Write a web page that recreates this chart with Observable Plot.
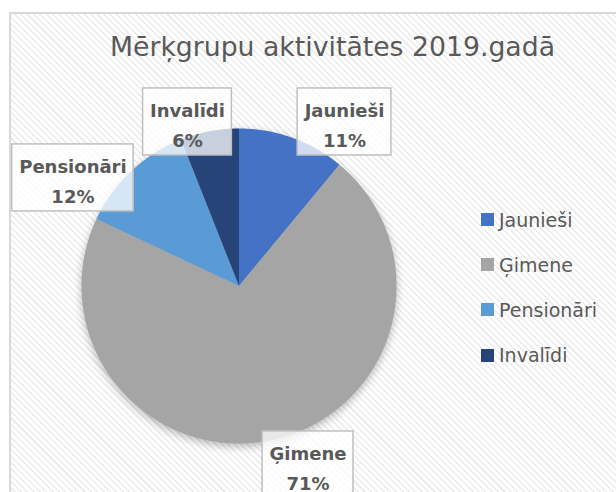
<!DOCTYPE html>
<html><head><meta charset="utf-8">
<script src="https://cdn.jsdelivr.net/npm/d3@7"></script>
<script src="https://cdn.jsdelivr.net/npm/@observablehq/plot@0.6"></script>
<style>
html,body{margin:0;padding:0;background:#fff;width:616px;height:492px;overflow:hidden;position:relative;}
#frame{position:absolute;left:9px;top:12px;width:700px;height:600px;border:2px solid #d9d9d9;box-sizing:border-box;
  background-color:#fff;background-image:repeating-linear-gradient(45deg,#ececec 0px,#ececec 1.5px,#fff 1.5px,#fff 4.5px);}
#chart{position:absolute;left:0;top:0;}
#title{position:absolute;left:0;width:665px;top:34px;text-align:center;font:26.7px/26.7px "DejaVu Sans",sans-serif;color:#595959;white-space:nowrap;}
#legend{position:absolute;left:481px;top:197px;font:19px "DejaVu Sans",sans-serif;color:#595959;}
.row{display:flex;align-items:center;height:45.2px;white-space:nowrap;}
.sw{width:13px;height:13px;margin-right:5px;flex:none;}
</style></head><body>
<div id="frame"></div>
<div id="chart"></div>
<div id="title">Mērķgrupu aktivitātes 2019.gadā</div>
<div id="legend"></div>
<script>
// ---- data ----
const categories = ["Jaunieši", "Ģimene", "Pensionāri", "Invalīdi"];
const values = [11, 71, 12, 6];
const colors = ["#4472C4", "#A5A5A5", "#5B9BD5", "#264478"];
const chartTitle = "Mērķgrupu aktivitātes 2019.gadā";

// ---- layout (pixels) ----
const R = 157.5;                    // pie radius in px (1 data unit)
const labelRadius = 1.2;            // label anchor distance in radii
const labelNudge = {                // pixel nudges of the data-label boxes
  "Jaunieši": [41.5, 13.8],
  "Ģimene": [27.8, -5.5],
  "Pensionāri": [-36.7, 29.7],
  "Invalīdi": [-16.1, 21.6]
};
const labelFont = 'bold 18px "DejaVu Sans"';
const boxPadX = 7, boxH = 67;

document.getElementById("title").textContent = chartTitle;

const data = categories.map((name, i) => ({name, value: values[i]}));
const total = d3.sum(values);
const arcs = d3.pie().sort(null).value(d => d.value)(data);

// slice outlines
const slicePts = [];
for (const a of arcs) {
  const name = a.data.name;
  slicePts.push({name, x: 0, y: 0});
  const n = Math.max(2, Math.ceil((a.endAngle - a.startAngle) / (Math.PI / 360)));
  for (let k = 0; k <= n; k++) {
    const t = a.startAngle + (a.endAngle - a.startAngle) * k / n;
    slicePts.push({name, x: Math.sin(t), y: Math.cos(t)});
  }
}

// labels and boxes
const ctx = document.createElement("canvas").getContext("2d");
ctx.font = labelFont;
const fmt = d3.format(".0%");
const labels = arcs.map(a => {
  const name = a.data.name;
  const mid = (a.startAngle + a.endAngle) / 2;
  const [nx, ny] = labelNudge[name];
  const x = labelRadius * Math.sin(mid) + nx / R;
  const y = labelRadius * Math.cos(mid) - ny / R;
  const pct = fmt(a.data.value / total);
  const w = Math.max(ctx.measureText(name).width, ctx.measureText(pct).width) + 2 * boxPadX;
  return {name, x, y, text: name + "\n" + pct,
    x1: x - w / 2 / R, x2: x + w / 2 / R, y1: y - boxH / 2 / R, y2: y + boxH / 2 / R};
});

const plot = Plot.plot({
  width: 616, height: 492,
  marginLeft: 81, marginRight: 220, marginTop: 128, marginBottom: 49,
  x: {domain: [-1, 1], axis: null},
  y: {domain: [-1, 1], axis: null},
  color: {domain: categories, range: colors},
  style: {background: "transparent", overflow: "visible"},
  marks: [
    Plot.line(slicePts, {x: "x", y: "y", z: "name", fill: "name", stroke: "none", curve: "linear-closed"}),
    Plot.rect(labels, {x1: "x1", x2: "x2", y1: "y1", y2: "y2", fill: "white", fillOpacity: 0.75, stroke: "#bfbfbf", strokeWidth: 1.5}),
    Plot.text(labels, {x: "x", y: "y", text: "text", fontFamily: "DejaVu Sans", fontSize: 18, fontWeight: "bold",
      fill: "#595959", lineHeight: 1.667, lineAnchor: "middle"})
  ]
});
document.getElementById("chart").appendChild(plot);
const pieG = plot.querySelector('g[aria-label="line"]');
if (pieG) pieG.style.filter = "drop-shadow(0px 3px 4px rgba(0,0,0,0.28))";

// legend
const legend = document.getElementById("legend");
categories.forEach((c, i) => {
  const row = document.createElement("div");
  row.className = "row";
  const sw = document.createElement("div");
  sw.className = "sw";
  sw.style.background = colors[i];
  const lab = document.createElement("span");
  lab.textContent = c;
  row.appendChild(sw); row.appendChild(lab);
  legend.appendChild(row);
});
</script>
</body></html>
